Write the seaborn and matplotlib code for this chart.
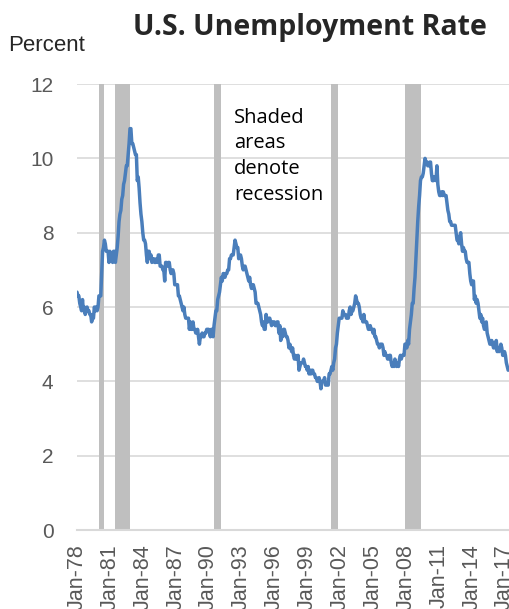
import pandas as pd
import numpy as np
import matplotlib
matplotlib.use('Agg')
import matplotlib.pyplot as plt
import seaborn as sns

# monthly U.S. unemployment rate, Jan-1978 .. May-2017 (percent)
rate_1978_1987 = [
    6.4, 6.3, 6.3, 6.1, 6.0, 5.9, 6.2, 5.9, 6.0, 5.8, 5.9, 6.0,
    5.9, 5.9, 5.8, 5.8, 5.6, 5.7, 5.7, 6.0, 5.9, 6.0, 5.9, 6.0,
    6.3, 6.3, 6.3, 6.9, 7.5, 7.6, 7.8, 7.7, 7.5, 7.5, 7.5, 7.2,
    7.5, 7.4, 7.4, 7.2, 7.5, 7.5, 7.2, 7.4, 7.6, 7.9, 8.3, 8.5,
    8.6, 8.9, 9.0, 9.3, 9.4, 9.6, 9.8, 9.8, 10.1, 10.4, 10.8, 10.8,
    10.4, 10.4, 10.3, 10.2, 10.1, 10.1, 9.4, 9.5, 9.2, 8.8, 8.5, 8.3,
    8.0, 7.8, 7.8, 7.7, 7.4, 7.2, 7.5, 7.5, 7.3, 7.4, 7.2, 7.3,
    7.3, 7.2, 7.2, 7.3, 7.2, 7.4, 7.4, 7.1, 7.1, 7.1, 7.0, 7.0,
    6.7, 7.2, 7.2, 7.1, 7.2, 7.2, 7.0, 6.9, 7.0, 7.0, 6.9, 6.6,
    6.6, 6.6, 6.6, 6.3, 6.3, 6.2, 6.1, 6.0, 5.9, 6.0, 5.8, 5.7,
]
rate_1988_1997 = [
    5.7, 5.7, 5.7, 5.4, 5.6, 5.4, 5.4, 5.6, 5.4, 5.4, 5.3, 5.3,
    5.4, 5.2, 5.0, 5.2, 5.2, 5.3, 5.2, 5.2, 5.3, 5.3, 5.4, 5.4,
    5.4, 5.3, 5.2, 5.4, 5.4, 5.2, 5.5, 5.7, 5.9, 5.9, 6.2, 6.3,
    6.4, 6.6, 6.8, 6.7, 6.9, 6.9, 6.8, 6.9, 6.9, 7.0, 7.0, 7.3,
    7.3, 7.4, 7.4, 7.4, 7.6, 7.8, 7.7, 7.6, 7.6, 7.3, 7.4, 7.4,
    7.3, 7.1, 7.0, 7.1, 7.1, 7.0, 6.9, 6.8, 6.7, 6.8, 6.6, 6.5,
    6.6, 6.6, 6.5, 6.4, 6.1, 6.1, 6.1, 6.0, 5.9, 5.8, 5.6, 5.5,
    5.6, 5.4, 5.4, 5.8, 5.6, 5.6, 5.7, 5.7, 5.6, 5.5, 5.6, 5.6,
    5.6, 5.5, 5.5, 5.6, 5.6, 5.3, 5.5, 5.1, 5.2, 5.2, 5.4, 5.4,
    5.3, 5.2, 5.2, 5.1, 4.9, 5.0, 4.9, 4.8, 4.9, 4.7, 4.6, 4.7,
]
rate_1998_2007 = [
    4.6, 4.6, 4.7, 4.3, 4.4, 4.5, 4.5, 4.5, 4.6, 4.5, 4.4, 4.4,
    4.3, 4.4, 4.2, 4.3, 4.2, 4.3, 4.3, 4.2, 4.2, 4.1, 4.1, 4.0,
    4.0, 4.1, 4.0, 3.8, 4.0, 4.0, 4.0, 4.1, 3.9, 3.9, 3.9, 3.9,
    4.2, 4.2, 4.3, 4.4, 4.3, 4.5, 4.6, 4.9, 5.0, 5.3, 5.5, 5.7,
    5.7, 5.7, 5.7, 5.9, 5.8, 5.8, 5.8, 5.7, 5.7, 5.7, 5.9, 6.0,
    5.8, 5.9, 5.9, 6.0, 6.1, 6.3, 6.2, 6.1, 6.1, 6.0, 5.8, 5.7,
    5.7, 5.6, 5.8, 5.6, 5.6, 5.6, 5.5, 5.4, 5.4, 5.5, 5.4, 5.4,
    5.3, 5.4, 5.2, 5.2, 5.1, 5.0, 5.0, 4.9, 5.0, 5.0, 5.0, 4.9,
    4.7, 4.8, 4.7, 4.7, 4.6, 4.6, 4.7, 4.7, 4.5, 4.4, 4.5, 4.4,
    4.6, 4.5, 4.4, 4.5, 4.4, 4.6, 4.7, 4.6, 4.7, 4.7, 4.7, 5.0,
]
rate_2008_2017 = [
    5.0, 4.9, 5.1, 5.0, 5.4, 5.6, 5.8, 6.1, 6.1, 6.5, 6.8, 7.3,
    7.8, 8.3, 8.7, 9.0, 9.4, 9.5, 9.5, 9.6, 9.8, 10.0, 9.9, 9.9,
    9.8, 9.8, 9.9, 9.9, 9.6, 9.4, 9.4, 9.5, 9.5, 9.4, 9.8, 9.3,
    9.1, 9.0, 9.0, 9.1, 9.0, 9.1, 9.0, 9.0, 9.0, 8.8, 8.6, 8.5,
    8.3, 8.3, 8.2, 8.2, 8.2, 8.2, 8.2, 8.0, 7.8, 7.8, 7.7, 7.9,
    8.0, 7.7, 7.5, 7.6, 7.5, 7.5, 7.3, 7.2, 7.2, 7.2, 6.9, 6.7,
    6.6, 6.7, 6.7, 6.2, 6.3, 6.1, 6.2, 6.1, 5.9, 5.7, 5.8, 5.6,
    5.7, 5.5, 5.4, 5.4, 5.6, 5.3, 5.2, 5.1, 5.0, 5.0, 5.1, 5.0,
    4.9, 4.9, 5.0, 5.1, 4.8, 4.9, 4.8, 4.9, 5.0, 4.9, 4.7, 4.7,
    4.8, 4.7, 4.5, 4.4, 4.3,
]

recession_start = ['1980-01', '1981-07', '1990-07', '2001-03', '2007-12']
recession_end = ['1980-07', '1982-11', '1991-03', '2001-11', '2009-06']

rates = rate_1978_1987 + rate_1988_1997 + rate_1998_2007 + rate_2008_2017
months = pd.period_range('1978-01', periods=len(rates), freq='M')
df = pd.DataFrame({'month': months, 'rate': rates})
df['idx'] = np.arange(len(df))

def month_idx(s):
    return (pd.Period(s, freq='M') - months[0]).n

sns.set_theme(style='white')
plt.rcParams['font.family'] = ['Liberation Sans', 'DejaVu Sans']

fig = plt.figure(figsize=(5.10, 6.09), dpi=100)
ax = fig.add_axes([0.151, 0.1297, 0.849, 0.7323])

for s, e in zip(recession_start, recession_end):
    ax.axvspan(month_idx(s), month_idx(e), color='#bfbfbf', lw=0, zorder=1)

sns.lineplot(data=df, x='idx', y='rate', ax=ax, color='#4a7ebb', lw=2.5, zorder=3)

ax.set_ylim(0, 12)
ax.set_yticks(range(0, 13, 2))
ax.set_xlim(0, len(df) + 1)
tick_pos = df['idx'][::36]
tick_lab = [m.strftime('%b-%y') for m in df['month'][::36]]
ax.set_xticks(tick_pos)
ax.set_xticklabels(tick_lab, rotation=90)
ax.set_xlabel('')
ax.set_ylabel('')

ax.yaxis.grid(True, color='#d9d9d9', lw=1.2, zorder=0)
ax.xaxis.grid(False)
ax.set_axisbelow(True)
for side in ['left', 'right', 'top']:
    ax.spines[side].set_visible(False)
ax.spines['bottom'].set_color('#d9d9d9')
ax.spines['bottom'].set_linewidth(1.5)
ax.tick_params(axis='both', length=0, colors='#595959', labelsize=15)
ax.tick_params(axis='x', labelsize=15.5, pad=10)
ax.tick_params(axis='y', pad=17)

ax.text(0.362, 0.947, 'Shaded\nareas\ndenote\nrecession', transform=ax.transAxes,
        ha='left', va='top', fontsize=14.5, family=['Open Sans', 'DejaVu Sans'],
        color='black', linespacing=1.38, zorder=4)

fig.text(0.608, 0.955, 'U.S. Unemployment Rate', ha='center', va='center',
         fontsize=20.5, fontweight='bold', family=['Open Sans', 'DejaVu Sans'])
fig.text(0.016, 0.926, 'Percent', ha='left', va='center', fontsize=16)

fig.savefig('out.png', dpi=100)
